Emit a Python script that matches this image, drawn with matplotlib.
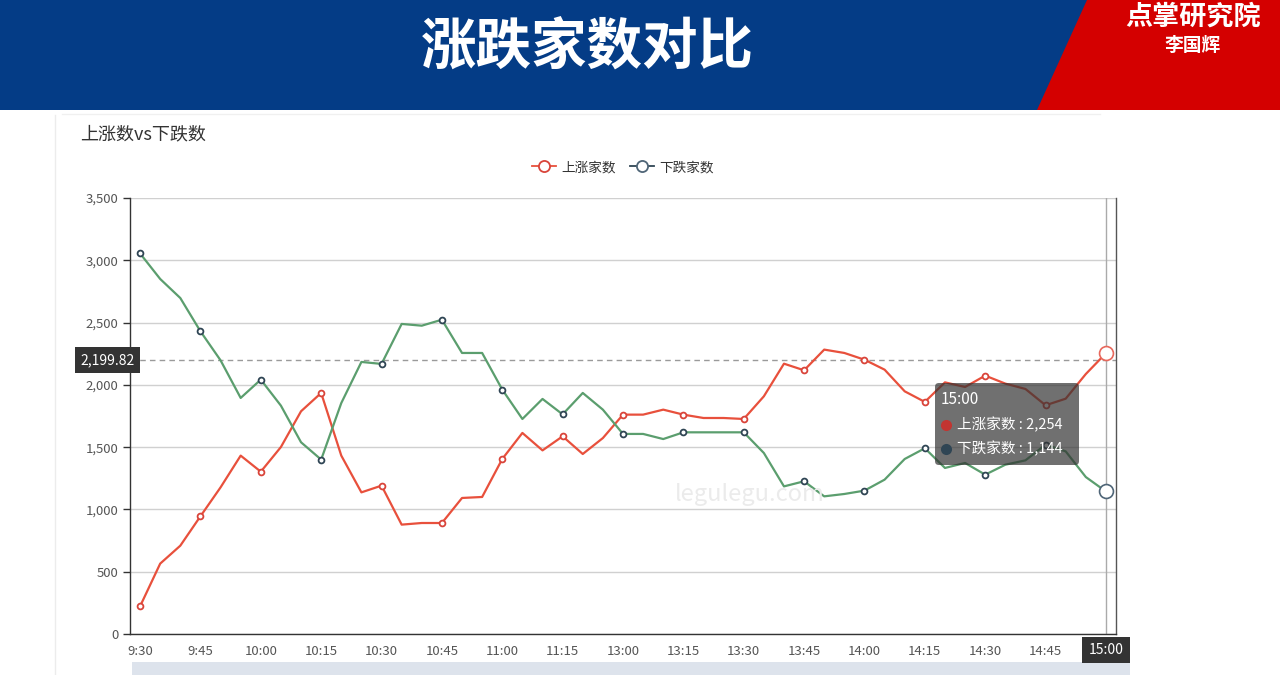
import matplotlib
matplotlib.use("Agg")
import matplotlib.pyplot as plt
from matplotlib.lines import Line2D
from matplotlib.patches import Polygon, Rectangle, FancyBboxPatch

plt.rcParams["font.family"] = ["Noto Sans CJK SC", "DejaVu Sans"]

# 5-minute snapshots, morning and afternoon sessions
times = ["9:30", "9:35", "9:40", "9:45", "9:50", "9:55", "10:00", "10:05", "10:10",
         "10:15", "10:20", "10:25", "10:30", "10:35", "10:40", "10:45", "10:50",
         "10:55", "11:00", "11:05", "11:10", "11:15", "11:20", "11:25",
         "13:00", "13:05", "13:10", "13:15", "13:20", "13:25", "13:30", "13:35",
         "13:40", "13:45", "13:50", "13:55", "14:00", "14:05", "14:10", "14:15",
         "14:20", "14:25", "14:30", "14:35", "14:40", "14:45", "14:50", "14:55",
         "15:00"]
up = [222, 565, 709, 945, 1177, 1432, 1303, 1501, 1788, 1935, 1432, 1137, 1191,
      878, 891, 891, 1092, 1100, 1405, 1614, 1474, 1587, 1445, 1573, 1761,
      1761, 1801, 1761, 1734, 1734, 1726, 1908, 2170, 2117, 2283, 2256, 2202, 2122,
      1948, 1863, 2020, 1983, 2074, 2010, 1967, 1836, 1889, 2087, 2254]
down = [3055, 2850, 2697, 2430, 2197, 1895, 2042, 1833, 1539, 1400, 1854, 2184, 2168,
        2489, 2475, 2523, 2256, 2256, 1962, 1726, 1887, 1763, 1935, 1801, 1606,
        1606, 1565, 1619, 1619, 1619, 1619, 1453, 1185, 1226, 1105, 1124, 1151, 1239,
        1405, 1491, 1333, 1373, 1279, 1359, 1394, 1520, 1466, 1260, 1144]
y_ticks = [0, 500, 1000, 1500, 2000, 2500, 3000, 3500]
pointer_value = 2199.82

W, H = 1280, 675
RED_LINE = "#e8503c"
RED_MARK = "#d9443a"
GREEN_LINE = "#5b9e6e"
SLATE = "#2f4554"


def fx(px):
    return px / W


def fy(py):
    return 1 - py / H


fig = plt.figure(figsize=(W / 100, H / 100), dpi=100)
fig.patch.set_facecolor("white")

# header band
fig.add_artist(Rectangle((0, fy(110)), 1, 110 / H, transform=fig.transFigure,
                         facecolor="#043c86", edgecolor="none"))
fig.add_artist(Polygon([(fx(1087), 1), (1, 1), (1, fy(110)), (fx(1037), fy(110))],
                       closed=True, transform=fig.transFigure,
                       facecolor="#d40000", edgecolor="none"))
fig.text(fx(587), fy(48), "涨跌家数对比", color="white", fontsize=40,
         fontweight="bold", ha="center", va="center")
fig.text(fx(1193), fy(17), "点掌研究院", color="white", fontsize=19.5,
         fontweight="bold", ha="center", va="center")
fig.text(fx(1193), fy(45), "李国辉", color="white", fontsize=13.5,
         fontweight="bold", ha="center", va="center")

# card borders
fig.add_artist(Line2D([fx(55), fx(55)], [fy(115), 0], transform=fig.transFigure,
                      color="#ececec", lw=1))
fig.add_artist(Line2D([fx(62), fx(1100)], [fy(114), fy(114)], transform=fig.transFigure,
                      color="#f0f0f0", lw=1))

fig.text(fx(80), fy(134), "上涨数vs下跌数", color="#333333", fontsize=13,
         ha="left", va="center")

# data zoom strip (behind everything else)
fig.add_artist(Rectangle((fx(132), 0), 998 / W, 13 / H, transform=fig.transFigure,
                         facecolor="#dde3ec", edgecolor="none", zorder=-1))

ax = fig.add_axes([fx(130), fy(634), 986 / W, 436 / H])
x = list(range(len(times)))
ax.plot(x, up, color=RED_LINE, lw=1.6, zorder=3)
ax.plot(x, down, color=GREEN_LINE, lw=1.6, zorder=3)

mark_idx = list(range(0, len(times) - 1, 3))
ax.plot(mark_idx, [up[i] for i in mark_idx], ls="none", marker="o", ms=4.2,
        mfc="white", mec=RED_MARK, mew=1.3, zorder=4)
ax.plot(mark_idx, [down[i] for i in mark_idx], ls="none", marker="o", ms=4.2,
        mfc="white", mec=SLATE, mew=1.3, zorder=4)
last = len(times) - 1
ax.plot([last], [up[last]], ls="none", marker="o", ms=10, mfc="white",
        mec="#e8685c", mew=1.2, zorder=5, clip_on=False)
ax.plot([last], [down[last]], ls="none", marker="o", ms=10, mfc="white",
        mec="#4f6577", mew=1.2, zorder=5, clip_on=False)

ax.set_xlim(-0.5, len(times) - 0.5)
ax.set_ylim(0, 3500)
ax.set_yticks(y_ticks)
ax.set_yticklabels([f"{v:,}" for v in y_ticks])
label_idx = list(range(0, len(times) - 1, 3))
ax.set_xticks(label_idx)
ax.set_xticklabels([times[i] for i in label_idx])
ax.tick_params(axis="y", colors="#333333", labelcolor="#555555", labelsize=9.5,
               length=5, width=1)
ax.tick_params(axis="x", labelcolor="#555555", labelsize=9.5, length=0, pad=8)
ax.grid(axis="y", color="#d0d0d0", lw=1)
ax.set_axisbelow(True)
for s in ("left", "bottom", "right"):
    ax.spines[s].set_color("#333333")
    ax.spines[s].set_linewidth(1)
ax.spines["right"].set_color("#555555")
ax.spines["top"].set_visible(False)

# axis pointer
ax.axhline(pointer_value, color="#9a9a9a", lw=1, ls=(0, (4, 3)), zorder=2)
ax.axvline(last, color="#aaaaaa", lw=1, zorder=2)
ax.text(-0.0225, pointer_value, f"{pointer_value:,.2f}", transform=ax.get_yaxis_transform(),
        ha="center", va="center", color="white", fontsize=10, zorder=10, clip_on=False,
        bbox=dict(boxstyle="square,pad=0.4", fc="#333333", ec="none"))
ax.text(last, -0.037, times[last], transform=ax.get_xaxis_transform(),
        ha="center", va="center", color="white", fontsize=10, zorder=10, clip_on=False,
        bbox=dict(boxstyle="square,pad=0.45", fc="#333333", ec="none"))

# watermark
fig.text(fx(750), fy(495), "legulegu.com", color="#ebebeb", fontsize=17,
         ha="center", va="center", zorder=1)

# tooltip
fig.add_artist(FancyBboxPatch((fx(935), fy(465)), 144 / W, 82 / H,
                              boxstyle="round,pad=0,rounding_size=0.003",
                              mutation_aspect=W / H, transform=fig.transFigure,
                              facecolor=(0.2, 0.2, 0.2, 0.7), edgecolor="none", zorder=20))
fig.text(fx(941), fy(400), times[last], color="white", fontsize=11, ha="left",
         va="center", zorder=21)
fig.add_artist(Line2D([fx(946)], [fy(425)], transform=fig.transFigure, ls="none",
                      marker="o", ms=8, mfc="#c23531", mec="none", zorder=21))
fig.add_artist(Line2D([fx(946)], [fy(449)], transform=fig.transFigure, ls="none",
                      marker="o", ms=8, mfc=SLATE, mec="none", zorder=21))
fig.text(fx(957), fy(425), f"上涨家数 : {up[last]:,}", color="white", fontsize=10.5,
         ha="left", va="center", zorder=21)
fig.text(fx(957), fy(449), f"下跌家数 : {down[last]:,}", color="white", fontsize=10.5,
         ha="left", va="center", zorder=21)

# legend
handles = [Line2D([], [], color=RED_LINE, lw=1.3, marker="o", ms=8, mfc="white",
                  mec=RED_MARK, mew=1.3),
           Line2D([], [], color=SLATE, lw=1.3, marker="o", ms=8, mfc="white",
                  mec="#4f6577", mew=1.3)]
fig.legend(handles, ["上涨家数", "下跌家数"], loc="center",
           bbox_to_anchor=(fx(623), fy(167)), ncol=2, frameon=False, fontsize=9.8,
           handlelength=1.8, handletextpad=0.4, columnspacing=1.0, labelcolor="#333333")

fig.savefig("out.png", dpi=100)
